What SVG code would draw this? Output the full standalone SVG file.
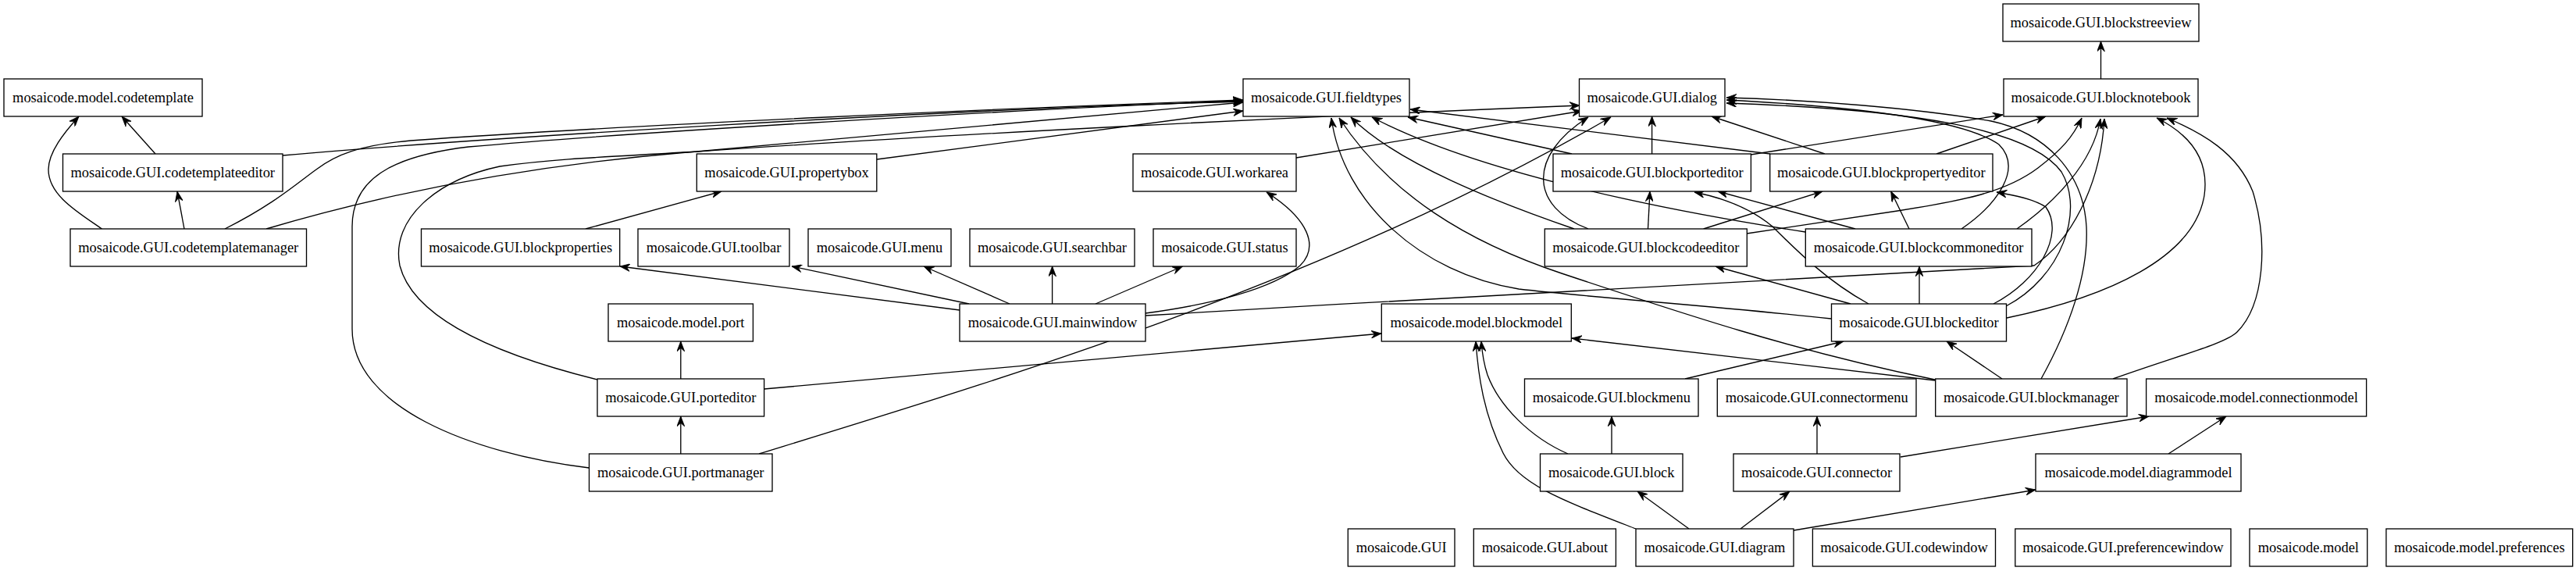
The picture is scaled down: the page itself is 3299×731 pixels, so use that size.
<svg xmlns="http://www.w3.org/2000/svg" width="3299" height="731" viewBox="0 0 3299 731">
<style>
.n rect{fill:#fff;stroke:#000;stroke-width:1.33}
.n text{font-family:"Liberation Serif","Times New Roman",serif;font-size:18.4px;text-anchor:middle;fill:#000}
#edges path{fill:none;stroke:#000;stroke-width:1.33;marker-end:url(#a)}
</style>
<defs>
<marker id="a" viewBox="0 0 14 10" refX="13" refY="5" markerWidth="14" markerHeight="10" markerUnits="userSpaceOnUse" orient="auto">
<path d="M13,5 L0,0 L4.5,5 L0,10 Z" fill="#000" stroke="#000" stroke-width="0.8"/>
</marker>
</defs>
<rect width="3299" height="731" fill="#fff"/>
<g id="edges">
<path d="M2690.5,101 L2690.5,53"/>
<path d="M199,197 L156,149"/>
<path d="M130.5,293 C100,272 62,250 62,217 C62,195 82,170 101,149"/>
<path d="M236,293 L227,245"/>
<path d="M362,199 C600,178 1200,140 1592,130"/>
<path d="M288,293 C350,262 380,235 405,217 C430,198 460,186 526,180 C800,160 1300,138 1592,128"/>
<path d="M341,293 C520,240 700,210 880,195 C1200,172 1700,148 2023,135"/>
<path d="M765,486 C640,455 530,410 512,340 C500,280 560,230 640,213 C720,202 800,200 892,194 C1150,172 1400,148 1592,131"/>
<path d="M754.5,599 C600,580 451,520 451,421 L451,290 C451,230 500,200 600,188 C800,170 1300,140 1592,129"/>
<path d="M1123,204 L1592,142"/>
<path d="M750,293 L924,245"/>
<path d="M1229,397 L794,341"/>
<path d="M1241,389 L1014,341"/>
<path d="M1293,389 L1183,341"/>
<path d="M1347.6,389 L1347.6,341"/>
<path d="M1403,389 L1514.5,341"/>
<path d="M1467,401 C1550,390 1630,370 1665,340 C1690,315 1675,280 1622,246"/>
<path d="M1467,404 C1900,378 2400,352 2605,340 C2650,310 2690,240 2695,152"/>
<path d="M1660,202 L2026,142"/>
<path d="M972,581 C1300,480 1700,360 2063,150"/>
<path d="M871.8,485 L871.8,437"/>
<path d="M871.8,581 L871.8,533"/>
<path d="M978.6,498 L1769,427"/>
<path d="M2115.6,197 L2115.6,149"/>
<path d="M2013,197 L1803,150"/>
<path d="M2242,198 L2565,147"/>
<path d="M2267,197 L1806,140"/>
<path d="M2337,197 L2192,149"/>
<path d="M2480,197 L2620,149"/>
<path d="M2110.5,293 L2113,245"/>
<path d="M2181.6,293 L2334,245"/>
<path d="M2016,293 C1920,260 1790,210 1730,150"/>
<path d="M2034,293 C1960,265 1955,200 2034,150"/>
<path d="M2237,299 L2430,270 C2520,256 2570,245 2610,215 C2640,192 2655,175 2666,151"/>
<path d="M2445,293 L2421.7,245"/>
<path d="M2376,293 L2200,245"/>
<path d="M2312,297 C2150,272 1900,225 1757,150"/>
<path d="M2512,293 C2560,260 2590,215 2560,185 C2510,150 2350,135 2211,128"/>
<path d="M2583,293 C2630,260 2680,210 2690,152"/>
<path d="M2458,389 L2458,341"/>
<path d="M2393,389 C2340,360 2300,320 2270,290 C2240,265 2200,252 2170,246"/>
<path d="M2370,389 L2197,341"/>
<path d="M2345,408 C2200,392 2050,382 1945,370 C1820,350 1720,260 1705,151"/>
<path d="M2553,389 C2610,360 2645,300 2620,265 C2605,255 2580,250 2557,246"/>
<path d="M2569,392 C2640,355 2670,270 2640,220 C2600,165 2450,140 2211,132"/>
<path d="M2570,407 C2700,380 2810,330 2823,250 C2830,200 2800,170 2762,151"/>
<path d="M2158,485 L2361,437"/>
<path d="M2064,581 L2064,533"/>
<path d="M2008,581 C1960,560 1920,520 1905,480 C1900,465 1898,450 1897,437"/>
<path d="M2327,581 L2327,533"/>
<path d="M2434,585 L2752,533"/>
<path d="M2163,677 L2097,629"/>
<path d="M2229,677 L2292,629"/>
<path d="M2095,677 C2000,640 1945,620 1925,580 C1900,530 1893,480 1890,437"/>
<path d="M2297,679 L2607,627"/>
<path d="M2777,581 L2851,533"/>
<path d="M2564,485 L2493,437"/>
<path d="M2478,487 L2013,433"/>
<path d="M2478,486 C2300,450 2150,400 2000,350 C1880,310 1780,250 1715,151"/>
<path d="M2614,485 C2650,420 2675,350 2672,290 C2668,220 2620,170 2550,155 C2450,138 2320,128 2211,125"/>
<path d="M2706,485 C2790,455 2850,440 2865,425 C2900,390 2905,310 2885,245 C2865,195 2820,170 2775,151"/>
</g>
<g id="n-blockstreeview" class="n"><rect x="2565" y="5" width="251" height="48"/><text x="2690.5" y="34.5">mosaicode.GUI.blockstreeview</text></g>
<g id="n-codetemplate" class="n"><rect x="5" y="101" width="254" height="48"/><text x="132" y="130.5">mosaicode.model.codetemplate</text></g>
<g id="n-fieldtypes" class="n"><rect x="1592" y="101" width="213" height="48"/><text x="1698.5" y="130.5">mosaicode.GUI.fieldtypes</text></g>
<g id="n-dialog" class="n"><rect x="2022.5" y="101" width="186.5" height="48"/><text x="2115.75" y="130.5">mosaicode.GUI.dialog</text></g>
<g id="n-blocknotebook" class="n"><rect x="2566" y="101" width="249" height="48"/><text x="2690.5" y="130.5">mosaicode.GUI.blocknotebook</text></g>
<g id="n-codetemplateeditor" class="n"><rect x="80.5" y="197" width="281.5" height="48"/><text x="221.25" y="226.5">mosaicode.GUI.codetemplateeditor</text></g>
<g id="n-propertybox" class="n"><rect x="892.3" y="197" width="230.5" height="48"/><text x="1007.55" y="226.5">mosaicode.GUI.propertybox</text></g>
<g id="n-workarea" class="n"><rect x="1451" y="197" width="209" height="48"/><text x="1555.5" y="226.5">mosaicode.GUI.workarea</text></g>
<g id="n-blockporteditor" class="n"><rect x="1989" y="197" width="253.4" height="48"/><text x="2115.7" y="226.5">mosaicode.GUI.blockporteditor</text></g>
<g id="n-blockpropertyeditor" class="n"><rect x="2266.7" y="197" width="285.3" height="48"/><text x="2409.35" y="226.5">mosaicode.GUI.blockpropertyeditor</text></g>
<g id="n-codetemplatemanager" class="n"><rect x="90" y="293" width="302.5" height="48"/><text x="241.25" y="322.5">mosaicode.GUI.codetemplatemanager</text></g>
<g id="n-blockproperties" class="n"><rect x="539.5" y="293" width="254.2" height="48"/><text x="666.6" y="322.5">mosaicode.GUI.blockproperties</text></g>
<g id="n-toolbar" class="n"><rect x="817" y="293" width="194" height="48"/><text x="914" y="322.5">mosaicode.GUI.toolbar</text></g>
<g id="n-menu" class="n"><rect x="1035" y="293" width="183" height="48"/><text x="1126.5" y="322.5">mosaicode.GUI.menu</text></g>
<g id="n-searchbar" class="n"><rect x="1242" y="293" width="211" height="48"/><text x="1347.5" y="322.5">mosaicode.GUI.searchbar</text></g>
<g id="n-status" class="n"><rect x="1477" y="293" width="183" height="48"/><text x="1568.5" y="322.5">mosaicode.GUI.status</text></g>
<g id="n-blockcodeeditor" class="n"><rect x="1978.3" y="293" width="259" height="48"/><text x="2107.8" y="322.5">mosaicode.GUI.blockcodeeditor</text></g>
<g id="n-blockcommoneditor" class="n"><rect x="2312.3" y="293" width="289.7" height="48"/><text x="2457.15" y="322.5">mosaicode.GUI.blockcommoneditor</text></g>
<g id="n-port" class="n"><rect x="779" y="389" width="185.4" height="48"/><text x="871.7" y="418.5">mosaicode.model.port</text></g>
<g id="n-mainwindow" class="n"><rect x="1229" y="389" width="238" height="48"/><text x="1348" y="418.5">mosaicode.GUI.mainwindow</text></g>
<g id="n-blockmodel" class="n"><rect x="1769.3" y="389" width="243" height="48"/><text x="1890.8" y="418.5">mosaicode.model.blockmodel</text></g>
<g id="n-blockeditor" class="n"><rect x="2345.5" y="389" width="224" height="48"/><text x="2457.5" y="418.5">mosaicode.GUI.blockeditor</text></g>
<g id="n-porteditor" class="n"><rect x="765" y="485" width="213.6" height="48"/><text x="871.8" y="514.5">mosaicode.GUI.porteditor</text></g>
<g id="n-blockmenu" class="n"><rect x="1952.5" y="485" width="222.5" height="48"/><text x="2063.75" y="514.5">mosaicode.GUI.blockmenu</text></g>
<g id="n-connectormenu" class="n"><rect x="2199.3" y="485" width="254.7" height="48"/><text x="2326.65" y="514.5">mosaicode.GUI.connectormenu</text></g>
<g id="n-blockmanager" class="n"><rect x="2478.7" y="485" width="245.3" height="48"/><text x="2601.35" y="514.5">mosaicode.GUI.blockmanager</text></g>
<g id="n-connectionmodel" class="n"><rect x="2748.6" y="485" width="282" height="48"/><text x="2889.6" y="514.5">mosaicode.model.connectionmodel</text></g>
<g id="n-portmanager" class="n"><rect x="754.5" y="581" width="234.5" height="48"/><text x="871.75" y="610.5">mosaicode.GUI.portmanager</text></g>
<g id="n-block" class="n"><rect x="1972.5" y="581" width="182.5" height="48"/><text x="2063.75" y="610.5">mosaicode.GUI.block</text></g>
<g id="n-connector" class="n"><rect x="2220" y="581" width="213" height="48"/><text x="2326.5" y="610.5">mosaicode.GUI.connector</text></g>
<g id="n-diagrammodel" class="n"><rect x="2607" y="581" width="263" height="48"/><text x="2738.5" y="610.5">mosaicode.model.diagrammodel</text></g>
<g id="n-GUI" class="n"><rect x="1726.3" y="677" width="136.7" height="48"/><text x="1794.65" y="706.5">mosaicode.GUI</text></g>
<g id="n-about" class="n"><rect x="1887.3" y="677" width="182.1" height="48"/><text x="1978.35" y="706.5">mosaicode.GUI.about</text></g>
<g id="n-diagram" class="n"><rect x="2095" y="677" width="202" height="48"/><text x="2196" y="706.5">mosaicode.GUI.diagram</text></g>
<g id="n-codewindow" class="n"><rect x="2321.4" y="677" width="234.1" height="48"/><text x="2438.45" y="706.5">mosaicode.GUI.codewindow</text></g>
<g id="n-preferencewindow" class="n"><rect x="2580.8" y="677" width="276.2" height="48"/><text x="2718.9" y="706.5">mosaicode.GUI.preferencewindow</text></g>
<g id="n-model" class="n"><rect x="2881" y="677" width="150.7" height="48"/><text x="2956.35" y="706.5">mosaicode.model</text></g>
<g id="n-preferences" class="n"><rect x="3055.9" y="677" width="238.8" height="48"/><text x="3175.3" y="706.5">mosaicode.model.preferences</text></g>
</svg>
